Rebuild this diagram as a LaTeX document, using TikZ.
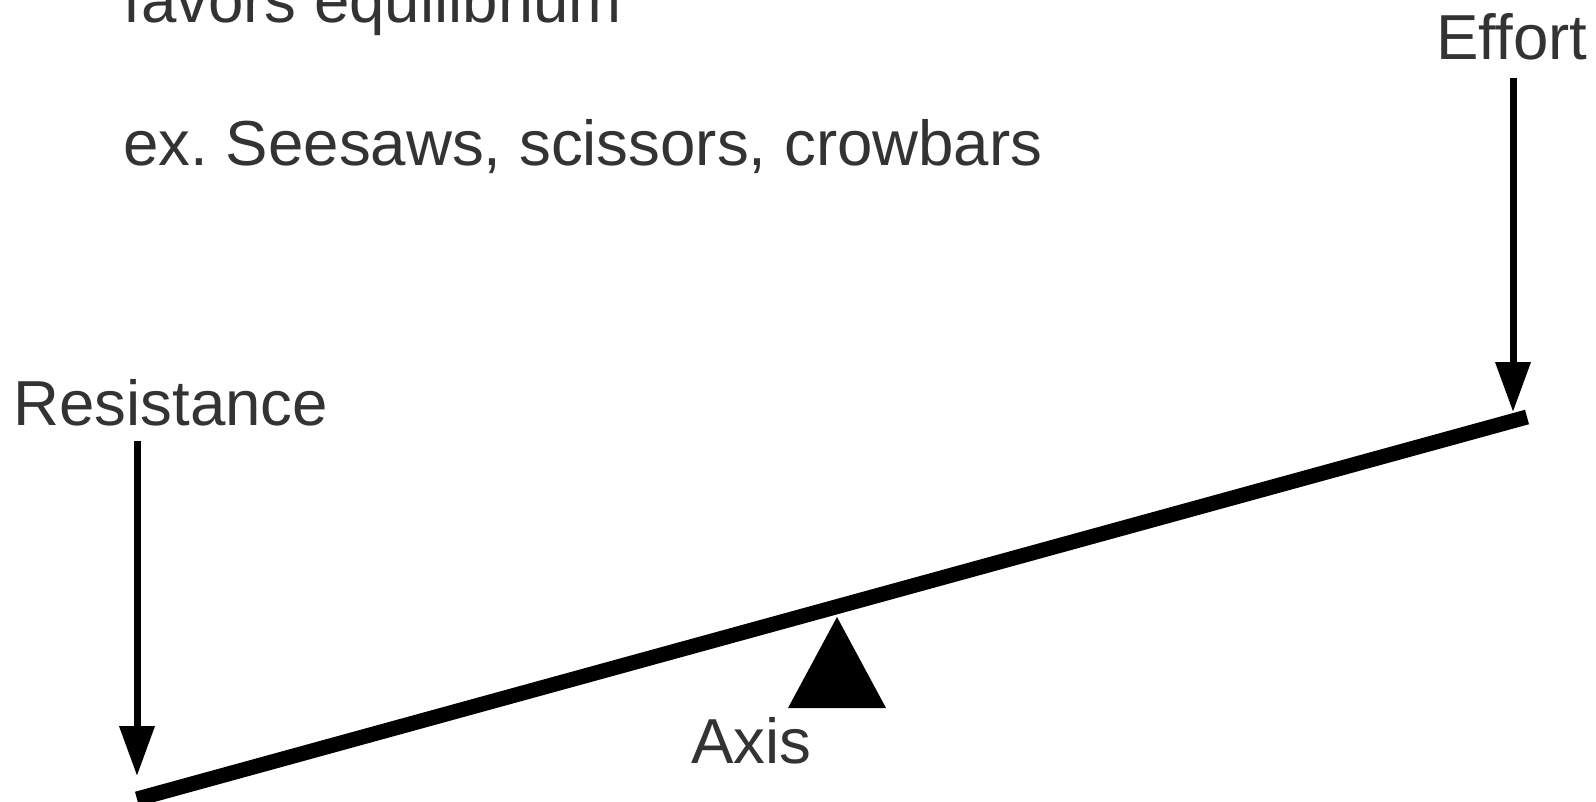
\documentclass[tikz,border=0pt]{standalone}
\usepackage{fontspec}
\setmainfont{Liberation Sans}
\usetikzlibrary{arrows.meta}
\definecolor{textgray}{HTML}{333333}
\frenchspacing
\tikzset{
  lbl/.style={anchor=base west, inner sep=0pt, text=textgray, font=\fontsize{31.8}{38}\selectfont},
  force/.style={line width=3.5pt, -{Triangle[length=25pt,width=17pt]}},
  lever/.style={line width=7.5pt},
}

\begin{document}
\begin{tikzpicture}[x=0.5pt,y=-0.5pt]
\useasboundingbox (0,0) rectangle (1596,802);

\node[lbl] (favors) at (123,23) {favors equilibrium};
\node[lbl] (examples) at (123,166) {ex. Seesaws, scissors, crowbars};
\node[lbl] (resistance) at (13,425) {Resistance};
\node[lbl] (effort) at (1436,60) {Effort};
\node[lbl] (axis) at (691,763) {Axis};

\coordinate (leftend) at (137,799);
\coordinate (rightend) at (1527,417);
\coordinate (restip) at (137,776);
\coordinate (efftip) at (1513,412);

% lever and fulcrum
\draw[lever] (leftend) -- (rightend);
\fill (837,617) -- (788,708) -- (886,708) -- cycle;

% forces
\draw[force] ([yshift=-7.5pt]resistance.south -| restip) -- (restip);
\draw[force] ([yshift=-8.5pt]effort.south -| efftip) -- (efftip);

\end{tikzpicture}
\end{document}
